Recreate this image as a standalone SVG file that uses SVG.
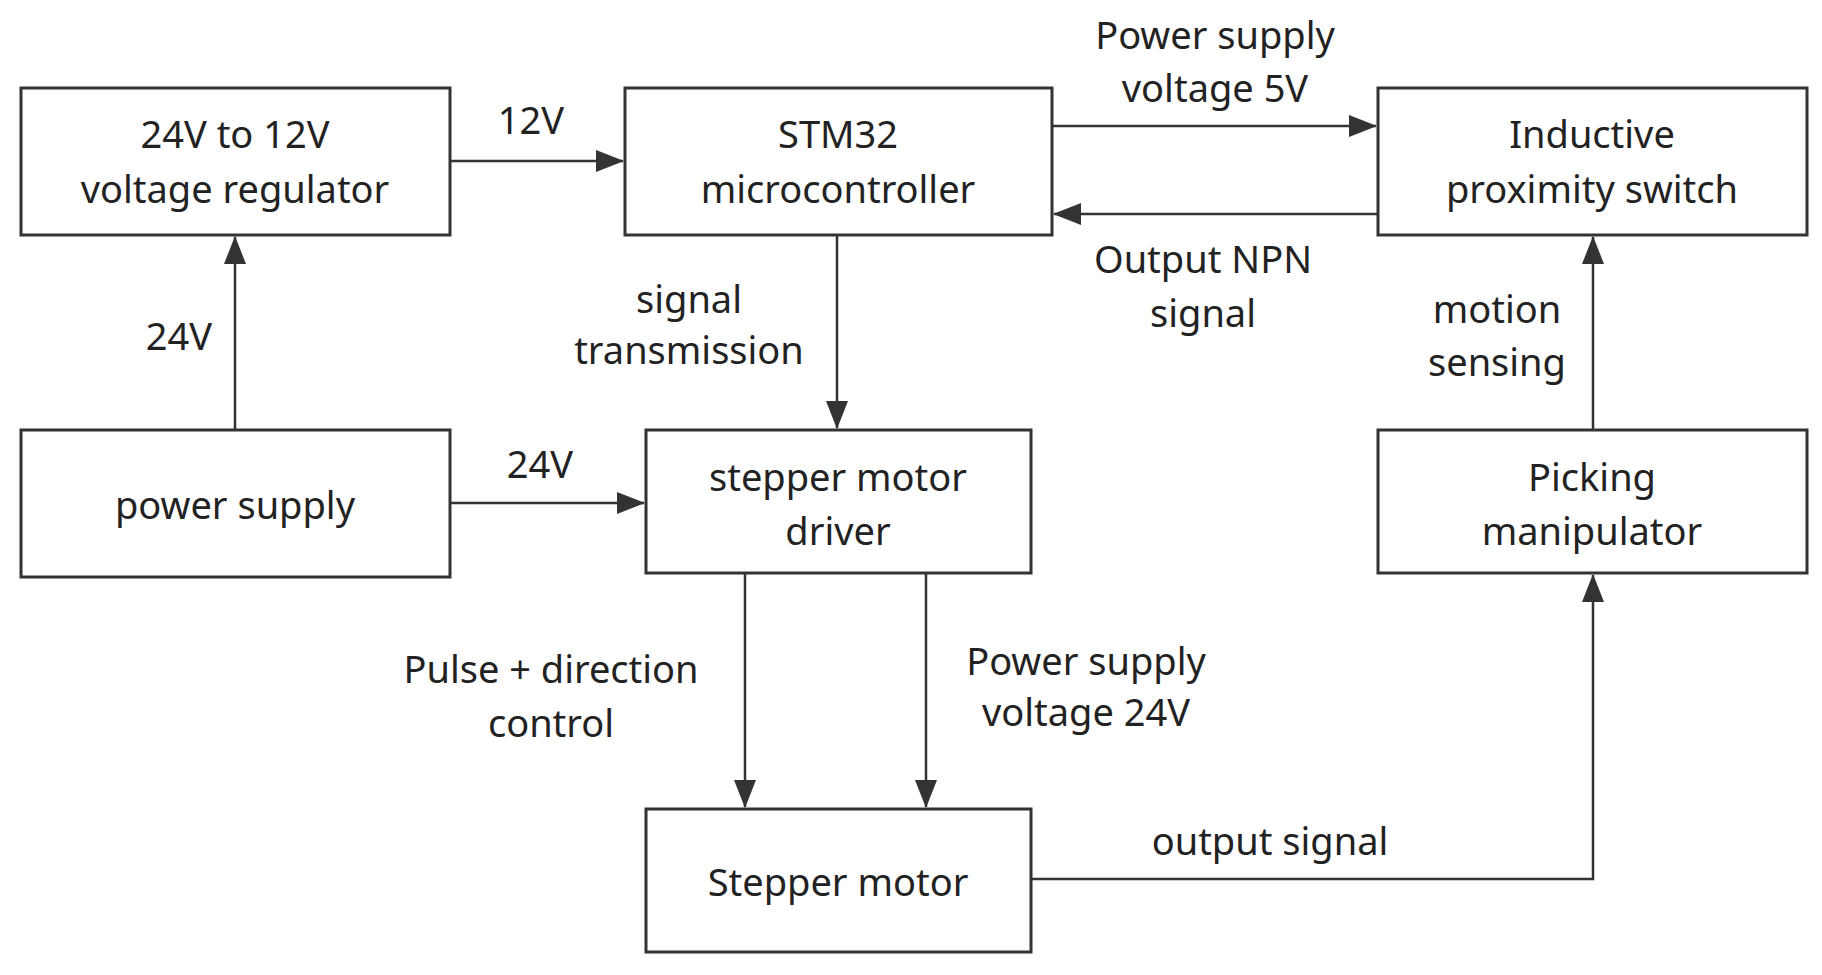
<svg xmlns="http://www.w3.org/2000/svg" width="1822" height="975" viewBox="0 0 1822 975">
<style>
rect{fill:#fff;stroke:#333;stroke-width:3}
text{font-family:"Noto Sans","Open Sans",sans-serif;font-size:38px;fill:#222;text-anchor:middle}
.c line,.c path{stroke:#333;stroke-width:2.5;fill:none;marker-end:url(#a)}
</style>
<defs><marker id="a" markerWidth="10" markerHeight="8" refX="9" refY="4" orient="auto" markerUnits="userSpaceOnUse" viewBox="0 0 10 8"><path d="M0,0L10,4L0,8z" fill="#333"/></marker></defs>
<rect width="1822" height="975" style="stroke:none"/>
<g class="c">
<line x1="450" y1="161" x2="623" y2="161" style="marker-end:url(#b)"/>
</g>
<defs><marker id="b" markerWidth="28" markerHeight="22" refX="27" refY="11" orient="auto" markerUnits="userSpaceOnUse"><path d="M0,0L28,11L0,22z" fill="#333"/></marker></defs>
<style>.c line,.c path{marker-end:url(#b)}</style>
<g class="c" id="connectors">
<line x1="1052" y1="126" x2="1376" y2="126"/>
<line x1="1378" y1="214" x2="1054" y2="214"/>
<line x1="837" y1="235" x2="837" y2="428"/>
<line x1="235" y1="430" x2="235" y2="237"/>
<line x1="450" y1="503" x2="644" y2="503"/>
<line x1="745" y1="573" x2="745" y2="807"/>
<line x1="926" y1="573" x2="926" y2="807"/>
<path d="M1031,879H1593V575"/>
<line x1="1593" y1="430" x2="1593" y2="237"/>
</g>
<g id="n1"><rect x="21" y="88" width="429" height="147"/><text x="235" y="148">24V to 12V</text><text x="235" y="203">voltage regulator</text></g>
<g id="n2"><rect x="625" y="88" width="427" height="147"/><text x="838" y="148">STM32</text><text x="838" y="203">microcontroller</text></g>
<g id="n3"><rect x="1378" y="88" width="429" height="147"/><text x="1592" y="148">Inductive</text><text x="1592" y="203">proximity switch</text></g>
<g id="n4"><rect x="21" y="430" width="429" height="147"/><text x="235" y="519">power supply</text></g>
<g id="n5"><rect x="646" y="430" width="385" height="143"/><text x="838" y="491">stepper motor</text><text x="838" y="545">driver</text></g>
<g id="n6"><rect x="1378" y="430" width="429" height="143"/><text x="1592" y="491">Picking</text><text x="1592" y="545">manipulator</text></g>
<g id="n7"><rect x="646" y="809" width="385" height="143"/><text x="838" y="896">Stepper motor</text></g>
<g id="labels">
<text x="531" y="134">12V</text>
<text x="1215" y="49">Power supply</text><text x="1215" y="102">voltage 5V</text>
<text x="1203" y="273">Output NPN</text><text x="1203" y="327">signal</text>
<text x="689" y="313">signal</text><text x="689" y="364">transmission</text>
<text x="179" y="350">24V</text>
<text x="1497" y="323">motion</text><text x="1497" y="376">sensing</text>
<text x="540" y="478">24V</text>
<text x="551" y="683">Pulse + direction</text><text x="551" y="737">control</text>
<text x="1086" y="675">Power supply</text><text x="1086" y="726">voltage 24V</text>
<text x="1270" y="855">output signal</text>
</g>
</svg>
